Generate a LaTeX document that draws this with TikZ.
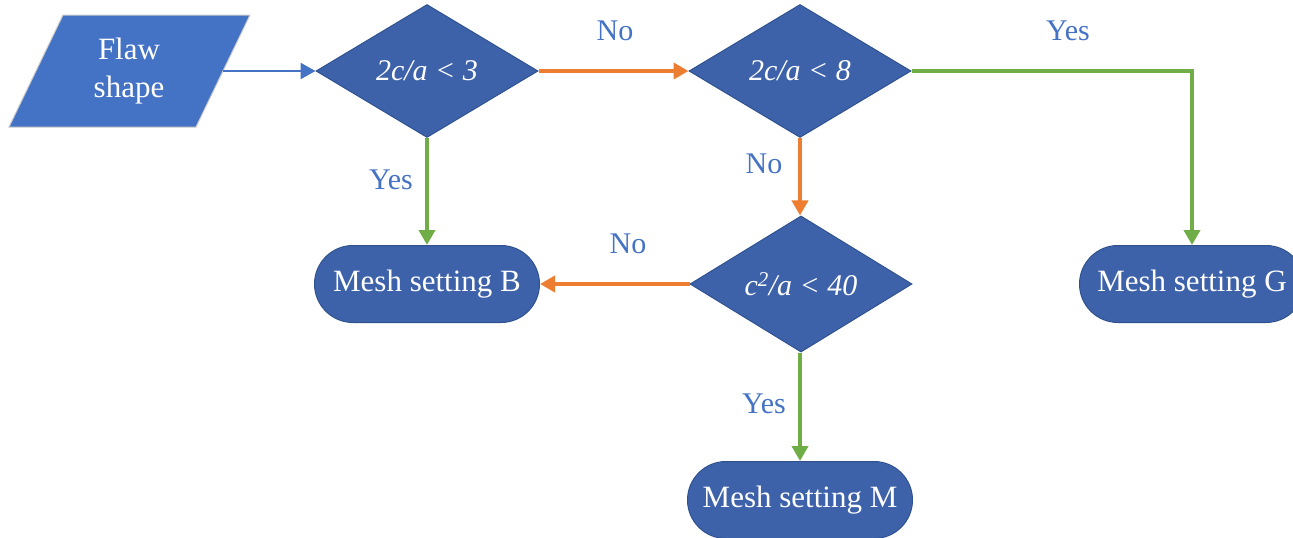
\documentclass[tikz,border=0pt]{standalone}
\usepackage{fontspec}
\setmainfont{Liberation Serif}
\usetikzlibrary{shapes.geometric,shapes.misc,arrows.meta}
\definecolor{fillA}{HTML}{4472C4}
\definecolor{fillB}{HTML}{3D62AA}
\definecolor{edgeB}{HTML}{2F528F}
\definecolor{gr}{HTML}{70AD47}
\definecolor{orng}{HTML}{ED7D31}
\definecolor{lbl}{HTML}{4472C4}
\tikzset{
  txt/.style={font=\fontsize{31}{38}\selectfont},
  decision/.style={diamond, draw=edgeB, line width=1pt, fill=fillB, text=white, inner sep=0pt,
     minimum width=222pt, minimum height=133pt, font=\fontsize{30}{36}\selectfont\itshape},
  terminal/.style={rounded rectangle, draw=edgeB, line width=1pt, fill=fillB, text=white, inner sep=0pt,
     minimum width=225pt, minimum height=77pt, txt},
  yesarrow/.style={draw=gr, line width=4pt, -{Triangle[length=15pt,width=16pt]}},
  noarrow/.style={draw=orng, line width=4pt, -{Triangle[length=15pt,width=16pt]}},
  bluearrow/.style={draw=fillA, line width=2.5pt, -{Triangle[length=15pt,width=16pt]}},
  lab/.style={text=lbl, font=\fontsize{30}{36}\selectfont}
}
\begin{document}
\begin{tikzpicture}[x=1pt,y=-1pt]
\useasboundingbox (0,0) rectangle (1293,538);
\clip (0,0) rectangle (1293,538);
% parallelogram
\fill[fillA, draw=gray!40, line width=1pt] (63,15) -- (250,15) -- (196,127) -- (9,127) -- cycle;
\node[txt, text=white, align=center] (flaw) at (129,71) {Flaw\\shape};
\coordinate (flawout) at (223,71);
% decisions
\node[decision] (d1) at (427,71) {2c/a < 3};
\node[decision] (d2) at (800,71) {2c/a < 8};
\node[decision] (d3) at (801,284) {c\textsuperscript{2}/a < 40};
% terminals
\node[terminal] (b) at (427,284) {Mesh setting B};
\node[terminal] (g) at (1192,284) {Mesh setting G};
\node[terminal] (m) at (800,500) {Mesh setting M};
% connectors
\draw[bluearrow] (flawout) -- (d1.west);
\draw[yesarrow] (d1.south) -- (b.north);
\draw[noarrow] (d1.east) -- (d2.west);
\draw[yesarrow] (d2.east) -| (g.north);
\draw[noarrow] (d2.south) -- (d2.south |- d3.north);
\draw[noarrow] (d3.west) -- (b.east);
\draw[yesarrow] (m.north |- d3.south) -- (m.north);
% labels
\node[lab] (l1) at (391,180) {Yes};
\node[lab] (l2) at (615,31) {No};
\node[lab] (l3) at (1068,31) {Yes};
\node[lab] (l4) at (764,164) {No};
\node[lab] (l5) at (628,244) {No};
\node[lab] (l6) at (764,404) {Yes};
\end{tikzpicture}
\end{document}
